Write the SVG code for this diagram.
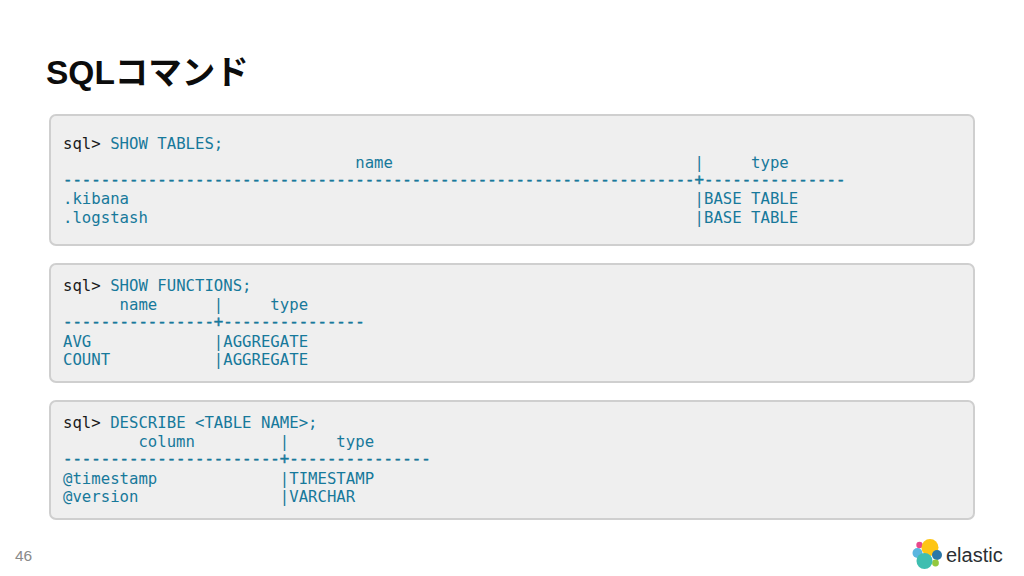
<svg xmlns="http://www.w3.org/2000/svg" width="1024" height="576" viewBox="0 0 1024 576">
<style>
.panel{fill:#efefef;stroke:#cfcfcf;stroke-width:2}
.c{font-family:"DejaVu Sans Mono","Liberation Mono",monospace;font-size:15.66px;fill:#17799b;white-space:pre}
.p{fill:#1a1a1a}
.d{stroke:#17799b;stroke-width:.45}
</style>
<rect width="1024" height="576" fill="#fff"/>
<text id="title" x="46" y="84" font-family="'Liberation Sans','Noto Sans CJK JP',sans-serif" font-size="33.5" font-weight="700" fill="#0c0c0c">SQLコマンド</text>
<g id="panel-tables">
<rect class="panel" x="50" y="115" width="924" height="130" rx="6"/>
<text class="c" xml:space="preserve"><tspan x="63" y="149"><tspan class="p">sql&gt;</tspan> SHOW TABLES;</tspan><tspan x="63" y="168">                               name                                |     type</tspan><tspan class="d" x="63" y="185">-------------------------------------------------------------------+---------------</tspan><tspan x="63" y="204">.kibana                                                            |BASE TABLE</tspan><tspan x="63" y="223">.logstash                                                          |BASE TABLE</tspan></text>
</g>
<g id="panel-functions">
<rect class="panel" x="50" y="264" width="924" height="118" rx="6"/>
<text class="c" xml:space="preserve"><tspan x="63" y="291"><tspan class="p">sql&gt;</tspan> SHOW FUNCTIONS;</tspan><tspan x="63" y="310">      name      |     type</tspan><tspan class="d" x="63" y="327">----------------+---------------</tspan><tspan x="63" y="347">AVG             |AGGREGATE</tspan><tspan x="63" y="365">COUNT           |AGGREGATE</tspan></text>
</g>
<g id="panel-describe">
<rect class="panel" x="50" y="401" width="924" height="118" rx="6"/>
<text class="c" xml:space="preserve"><tspan x="63" y="428"><tspan class="p">sql&gt;</tspan> DESCRIBE &lt;TABLE NAME&gt;;</tspan><tspan x="63" y="447">        column         |     type</tspan><tspan class="d" x="63" y="464">-----------------------+---------------</tspan><tspan x="63" y="484">@timestamp             |TIMESTAMP</tspan><tspan x="63" y="502">@version               |VARCHAR</tspan></text>
</g>
<text id="page" x="15" y="561" font-family="'Liberation Sans',sans-serif" font-size="15.5" fill="#8a8a8a">46</text>
<g id="logo">
<circle cx="917.5" cy="553" r="5" fill="#5ab6e0"/>
<circle cx="919.5" cy="545" r="3.2" fill="#e8478b"/>
<circle cx="930" cy="547.5" r="8.5" fill="#fec514"/>
<circle cx="937" cy="555" r="5" fill="#2b77a8"/>
<circle cx="935.5" cy="563" r="3.4" fill="#93c83e"/>
<circle cx="924.5" cy="561" r="8" fill="#3ebeb0"/>
<text x="946" y="562" font-family="'Liberation Sans',sans-serif" font-size="20" fill="#2a2f33">elastic</text>
</g>
</svg>
